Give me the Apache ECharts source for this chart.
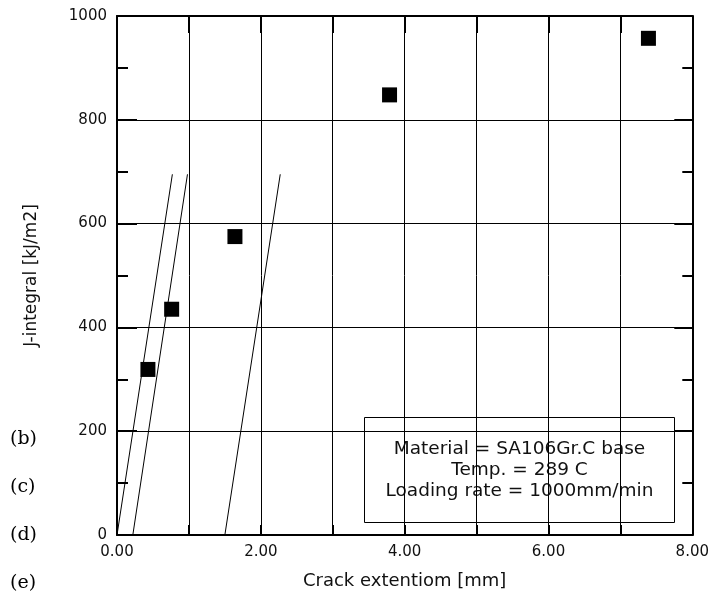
<!DOCTYPE html>
<html>
<head>
<meta charset="utf-8">
<script src="https://cdn.jsdelivr.net/npm/echarts@6/dist/echarts.min.js"></script>
<style>
html,body{margin:0;padding:0;background:#fff;}
#chart{width:712px;height:601px;}
</style>
</head>
<body>
<div id="chart"></div>
<script>
// Data
const crackExtension = [0.43, 0.76, 1.64, 3.79, 7.39];
const jIntegral = [319, 435, 575, 848, 957];
const lineJ = [0, 695];
const bluntingLineX = [0, 0.77];
const offsetLine1X = [0.22, 0.98];
const offsetLine2X = [1.5, 2.27];
const legendLines = ['Material = SA106Gr.C base', 'Temp. = 289 C', 'Loading rate = 1000mm/min'];
const sideLabels = ['(b)', '(c)', '(d)', '(e)'];

const pts = crackExtension.map((x, i) => [x, jIntegral[i]]);
const mkLine = xs => xs.map((x, i) => [x, lineJ[i]]);

const chart = echarts.init(document.getElementById('chart'), null, {renderer: 'canvas'});
const font = 'DejaVu Sans';
const axisCommon = {
  type: 'value',
  axisLine: {show: true, onZero: false, lineStyle: {color: '#000', width: 2}},
  splitLine: {show: false}
};
chart.setOption({
  animation: false,
  backgroundColor: '#fff',
  grid: {left: 117, top: 16, right: 19, bottom: 66, containLabel: false},
  xAxis: [
    Object.assign({}, axisCommon, {
      position: 'bottom', min: 0, max: 8, interval: 1,
      name: 'Crack extentiom [mm]', nameLocation: 'middle', nameGap: 37,
      nameTextStyle: {fontFamily: font, fontSize: 18, color: '#111'},
      axisTick: {show: true, inside: true, length: 10, lineStyle: {color: '#000', width: 2}},
      axisLabel: {fontFamily: font, fontSize: 15, color: '#111', margin: 10,
        formatter: v => (Math.round(v) % 2 === 0 ? v.toFixed(2) : '')},
      splitLine: {show: true, lineStyle: {color: '#000', width: 1}}
    }),
    Object.assign({}, axisCommon, {
      position: 'top', min: 0, max: 8, interval: 1,
      axisTick: {show: true, inside: true, length: 17, lineStyle: {color: '#000', width: 2}},
      axisLabel: {show: false}
    })
  ],
  yAxis: [
    Object.assign({}, axisCommon, {
      position: 'left', min: 0, max: 1000, interval: 200,
      name: 'J-integral [kJ/m2]', nameLocation: 'middle', nameGap: 77, nameRotate: 90,
      nameTextStyle: {fontFamily: font, fontSize: 17, color: '#111'},
      axisTick: {show: true, inside: true, length: 20, lineStyle: {color: '#000', width: 2}},
      minorTick: {show: true, splitNumber: 2, length: 11, lineStyle: {color: '#000', width: 2}},
      axisLabel: {fontFamily: font, fontSize: 15, color: '#111', margin: 10,
        formatter: v => String(v)},
      splitLine: {show: true, lineStyle: {color: '#000', width: 1}}
    }),
    Object.assign({}, axisCommon, {
      position: 'right', min: 0, max: 1000, interval: 200,
      axisTick: {show: true, inside: true, length: 18, lineStyle: {color: '#000', width: 2}},
      minorTick: {show: true, splitNumber: 2, length: 10, lineStyle: {color: '#000', width: 2}},
      axisLabel: {show: false}
    })
  ],
  series: [
    {type: 'line', data: mkLine(bluntingLineX), showSymbol: false, symbol: 'none',
     lineStyle: {color: '#000', width: 1}, silent: true},
    {type: 'line', data: mkLine(offsetLine1X), showSymbol: false, symbol: 'none',
     lineStyle: {color: '#000', width: 1}, silent: true},
    {type: 'line', data: mkLine(offsetLine2X), showSymbol: false, symbol: 'none',
     lineStyle: {color: '#000', width: 1}, silent: true},
    {type: 'scatter', data: pts, symbol: 'rect', symbolSize: 15,
     itemStyle: {color: '#000', opacity: 1}, z: 5}
  ],
  graphic: [
    {type: 'group', left: 364, top: 417, z: 100, children: [
      {type: 'rect', shape: {x: 0, y: 0, width: 310, height: 105},
       style: {fill: '#fff', stroke: '#000', lineWidth: 1}},
      {type: 'text', x: 155, y: 53, style: {
        text: legendLines.join('\n'), font: '18.5px "DejaVu Sans"', fill: '#111',
        align: 'center', verticalAlign: 'middle', lineHeight: 21}}
    ]}
  ].concat(sideLabels.map((t, i) => ({
    type: 'text', left: 10, top: 430 + i * 48, z: 100,
    style: {text: t, font: '19px "DejaVu Serif"', fill: '#000'}
  })))
});
</script>
</body>
</html>
